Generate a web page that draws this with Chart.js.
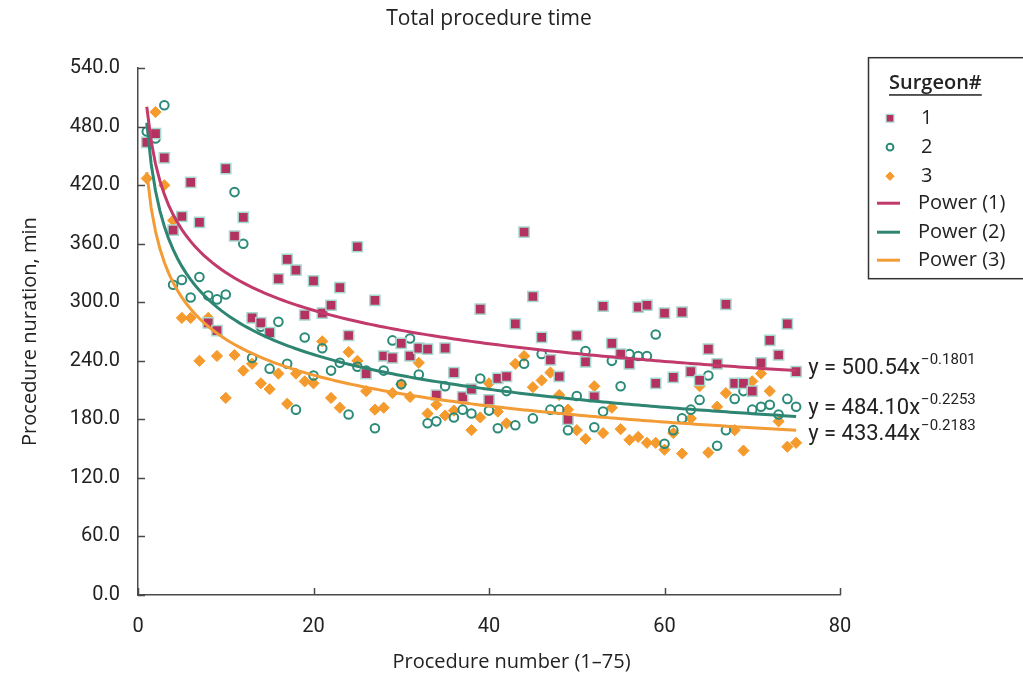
<!DOCTYPE html>
<html>
<head>
<meta charset="utf-8">
<title>Total procedure time</title>
<script src="https://cdn.jsdelivr.net/npm/chart.js@4.4.0/dist/chart.umd.min.js"></script>
<style>
    html, body { margin: 0; padding: 0; background: #fff; }
    #wrap { width: 1023px; height: 678px; }
</style>
</head>
<body>
<div id="wrap"><canvas id="myChart" width="1023" height="678"></canvas></div>
<script>
// procedure numbers 1..75
const procedures = [
    1, 2, 3, 4, 5, 6, 7, 8, 9, 10, 11, 12, 13, 14, 15, 16, 17, 18, 19, 20,
    21, 22, 23, 24, 25, 26, 27, 28, 29, 30, 31, 32, 33, 34, 35, 36, 37, 38, 39, 40,
    41, 42, 43, 44, 45, 46, 47, 48, 49, 50, 51, 52, 53, 54, 55, 56, 57, 58, 59, 60,
    61, 62, 63, 64, 65, 66, 67, 68, 69, 70, 71, 72, 73, 74, 75
];

// minutes
const surgeon1 = [
    464, 473, 448, 374, 388, 423, 382, 279, 271, 437, 368, 387, 284, 279, 269, 324, 344, 333, 287, 322,
    289, 297, 315, 266, 357, 227, 302, 245, 243, 258, 245, 253, 252, 205, 253, 228, 203, 211, 293, 200,
    222, 224, 278, 372, 306, 264, 241, 224, 180, 266, 239, 203, 296, 258, 247, 237, 295, 297, 217, 289,
    223, 290, 229, 220, 252, 237, 298, 217, 217, 209, 238, 261, 246, 278, 229
];
const surgeon2 = [
    475, 468, 502, 318, 323, 305, 326, 307, 303, 308, 413, 360, 243, 275, 232, 280, 237, 190, 264, 225,
    253, 230, 238, 185, 234, 230, 171, 230, 261, 216, 263, 226, 176, 178, 214, 182, 190, 186, 222, 189,
    171, 209, 174, 237, 181, 247, 190, 190, 169, 204, 250, 172, 188, 240, 214, 247, 245, 245, 267, 155,
    169, 181, 190, 200, 225, 153, 169, 201, 209, 190, 193, 195, 185, 201, 193
];
const surgeon3 = [
    427, 495, 420, 384, 284, 284, 240, 284, 245, 202, 246, 230, 237, 217, 211, 227, 196, 227, 219, 217,
    260, 202, 192, 249, 240, 209, 190, 192, 207, 216, 203, 238, 186, 195, 184, 189, 200, 169, 182, 217,
    188, 176, 237, 245, 213, 220, 228, 205, 190, 169, 160, 214, 166, 192, 170, 159, 162, 156, 156, 149,
    166, 145, 181, 214, 146, 193, 207, 169, 148, 219, 227, 209, 178, 152, 156
];

// power trend lines as printed on the chart: y = a * x^b
const trendNames = ['Power (1)', 'Power (2)', 'Power (3)'];
const trendA = [500.54, 484.10, 433.44];
const trendB = [-0.1801, -0.2253, -0.2183];
const trendLabels = ['500.54', '484.10', '433.44'];
const trendExps = ['\u22120.1801', '\u22120.2253', '\u22120.2183'];

const xTicks = [0, 20, 40, 60, 80];
const yTicks = [0, 60, 120, 180, 240, 300, 360, 420, 480, 540];

const maroon = '#b3325f';
const maroonLine = '#c13a6b';
const teal = '#2b8a78';
const tealLine = '#2d8572';
const orange = '#f59a2c';
const orangeLine = '#f39b35';
const axisColor = '#4a4a4a';
const textColor = '#222';

const lineColors = [maroonLine, tealLine, orangeLine];
const eqOffsets = [3, -2, 10];

const legendStyles = [
    { style: 'rect', radius: 5.5, fill: maroon, stroke: '#a6d9cf', width: 1.2 },
    { style: 'circle', radius: 3.4, fill: '#fff', stroke: teal, width: 2 },
    { style: 'rectRot', radius: 4.2, fill: orange, stroke: orange, width: 1 }
];

function toPoints(values) {
    return procedures.map((p, i) => ({ x: p, y: values[i] }));
}

function trendPoints(a, b) {
    const pts = [];
    for (let x = 1; x <= 75.001; x += 0.5) {
        pts.push({ x: x, y: a * Math.pow(x, b) });
    }
    return pts;
}

// draws inward ticks, x title, equations and the boxed legend
const decorations = {
    id: 'decorations',
    afterDraw(chart) {
        const ctx = chart.ctx;
        const xs = chart.scales.x;
        const ys = chart.scales.y;
        const area = chart.chartArea;

        ctx.save();
        ctx.strokeStyle = axisColor;
        ctx.lineWidth = 1.5;
        ctx.beginPath();
        xTicks.forEach(v => {
            const px = Math.round(xs.getPixelForValue(v)) + 0.5;
            ctx.moveTo(px, area.bottom);
            ctx.lineTo(px, area.bottom - 7);
        });
        yTicks.forEach(v => {
            const py = Math.round(ys.getPixelForValue(v)) + 0.5;
            ctx.moveTo(area.left, py);
            ctx.lineTo(area.left + 7, py);
        });
        ctx.stroke();

        // x axis title, centred on the figure
        ctx.fillStyle = textColor;
        ctx.font = '20px "Open Sans"';
        ctx.textAlign = 'center';
        ctx.textBaseline = 'middle';
        ctx.fillText('Procedure number (1\u201375)', chart.width / 2, 662);

        // trend equations
        ctx.textAlign = 'left';
        ctx.textBaseline = 'alphabetic';
        const ex = xs.getPixelForValue(75) + 12;
        trendA.forEach((a, i) => {
            const yEnd = a * Math.pow(75, trendB[i]);
            const by = ys.getPixelForValue(yEnd) + eqOffsets[i];
            ctx.font = '22px Roboto';
            const main = 'y = ' + trendLabels[i] + 'x';
            ctx.fillText(main, ex, by);
            const w = ctx.measureText(main).width;
            ctx.font = '15px Roboto';
            ctx.fillText(trendExps[i], ex + w + 1, by - 10);
        });

        // legend box
        const lx = area.right + 28;
        const ly = area.top - 11;
        ctx.strokeStyle = '#333';
        ctx.lineWidth = 1.5;
        ctx.strokeRect(lx + 0.5, ly + 0.5, 160, 221);

        ctx.fillStyle = textColor;
        ctx.font = '600 20px "Open Sans"';
        ctx.textBaseline = 'middle';
        ctx.fillText('Surgeon#', lx + 21, ly + 26);
        const tw = ctx.measureText('Surgeon#').width;
        ctx.fillRect(lx + 21, ly + 37, tw, 1.5);

        const rowY = [61, 90, 119, 146, 175, 203];
        legendStyles.forEach((s, i) => {
            ctx.fillStyle = s.fill;
            ctx.strokeStyle = s.stroke;
            ctx.lineWidth = s.width;
            Chart.helpers.drawPoint(ctx, {
                pointStyle: s.style,
                radius: s.radius,
                borderWidth: s.width,
                rotation: 0
            }, lx + 22, ly + rowY[i]);
            ctx.fillStyle = textColor;
            ctx.font = '20px "Open Sans"';
            ctx.fillText(String(i + 1), lx + 53, ly + rowY[i]);
        });
        trendNames.forEach((name, i) => {
            const y = ly + rowY[3 + i];
            ctx.strokeStyle = lineColors[i];
            ctx.lineWidth = 3;
            ctx.beginPath();
            ctx.moveTo(lx + 9, y);
            ctx.lineTo(lx + 32, y);
            ctx.stroke();
            ctx.fillStyle = textColor;
            ctx.font = '20px "Open Sans"';
            ctx.fillText(name, lx + 50, y);
        });
        ctx.restore();
    }
};

const ctx = document.getElementById('myChart').getContext('2d');
const chart = new Chart(ctx, {
    type: 'scatter',
    data: {
        datasets: [
            {
                label: '1',
                data: toPoints(surgeon1),
                pointStyle: 'rect',
                pointRadius: 7.2,
                backgroundColor: maroon,
                borderColor: '#a6d9cf',
                borderWidth: 1.5,
                order: 1
            },
            {
                label: '2',
                data: toPoints(surgeon2),
                pointStyle: 'circle',
                pointRadius: 4.3,
                backgroundColor: 'rgba(255,255,255,0)',
                borderColor: teal,
                borderWidth: 2,
                order: 2
            },
            {
                label: '3',
                data: toPoints(surgeon3),
                pointStyle: 'rectRot',
                pointRadius: 5.6,
                backgroundColor: orange,
                borderColor: orange,
                borderWidth: 1,
                order: 3
            },
            ...trendA.map((a, i) => ({
                type: 'line',
                label: trendNames[i],
                data: trendPoints(a, trendB[i]),
                borderColor: lineColors[i],
                borderWidth: 3,
                pointRadius: 0,
                fill: false,
                tension: 0,
                order: 0
            }))
        ]
    },
    options: {
        responsive: false,
        animation: false,
        events: [],
        layout: { padding: { left: 10, right: 183, top: 0, bottom: 0 } },
        plugins: {
            legend: { display: false },
            tooltip: { enabled: false },
            title: {
                display: true,
                text: 'Total procedure time',
                fullSize: false,
                color: textColor,
                font: { family: 'Open Sans', size: 21, weight: 'normal' },
                padding: { top: 6, bottom: 37 }
            }
        },
        scales: {
            x: {
                type: 'linear',
                min: 0,
                max: 80,
                afterFit: scale => { scale.height = 83; },
                afterBuildTicks: scale => { scale.ticks = xTicks.map(v => ({ value: v })); },
                grid: { display: false },
                border: { display: true, color: axisColor, width: 1.5 },
                ticks: {
                    color: textColor,
                    padding: 12,
                    font: { family: 'Roboto', size: 20 }
                }
            },
            y: {
                min: 0,
                max: 540,
                afterFit: scale => { scale.width = 128; },
                afterBuildTicks: scale => { scale.ticks = yTicks.map(v => ({ value: v })); },
                grid: { display: false },
                border: { display: true, color: axisColor, width: 1.5 },
                ticks: {
                    color: textColor,
                    padding: 10,
                    font: { family: 'Roboto', size: 20 },
                    callback: value => value.toFixed(1)
                },
                title: {
                    display: true,
                    text: 'Procedure nuration, min',
                    color: textColor,
                    font: { family: 'Open Sans', size: 20 },
                    padding: { top: 8, bottom: 0 }
                }
            }
        }
    },
    plugins: [decorations]
});
</script>
</body>
</html>
